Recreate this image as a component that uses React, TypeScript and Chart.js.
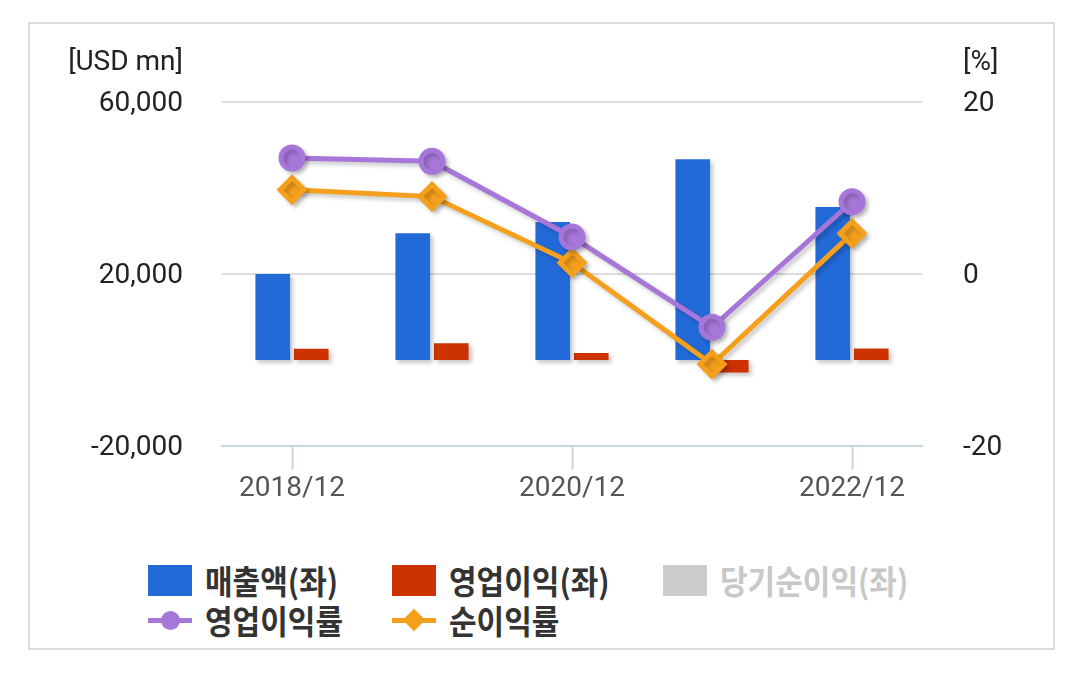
import React, { useEffect, useRef } from "react";
import { Chart, registerables } from "chart.js";

Chart.register(...registerables);

const categories = ["2018/12", "2019/12", "2020/12", "2021/12", "2022/12"];
const revenue = [20000, 29500, 32100, 46700, 35600];
const operatingIncome = [2600, 3900, 1600, -2900, 2700];
const netIncome = [1960, 2650, 420, -4900, 1670];
const operatingMargin = [13.5, 13.1, 4.3, -6.2, 8.4];
const netMargin = [9.8, 9.0, 1.3, -10.5, 4.7];
const leftTicks = [-20000, 20000, 60000];
const rightTicks = [-20, 0, 20];

const BLUE = "#236ad9";
const RED = "#cc3300";
const GRAY = "#cccccc";
const PURPLE = "#a776d9";
const ORANGE = "#f5a01c";

const shadowPlugin = {
  id: "shadowPlugin",
  beforeDatasetsDraw(chart: any) {
    const ctx = chart.ctx;
    ctx.save();
    ctx.shadowColor = "rgba(0,0,0,0.22)";
    ctx.shadowBlur = 4;
    ctx.shadowOffsetX = 3;
    ctx.shadowOffsetY = 3;
  },
  afterDatasetsDraw(chart: any) {
    chart.ctx.restore();
  },
};

const axisTitlePlugin = {
  id: "axisTitlePlugin",
  afterDraw(chart: any) {
    const ctx = chart.ctx;
    const area = chart.chartArea;
    ctx.save();
    ctx.font = "28px Roboto";
    ctx.fillStyle = "#222";
    ctx.textBaseline = "middle";
    ctx.textAlign = "right";
    ctx.fillText("[USD mn]", area.left - 39, area.top - 39);
    ctx.textAlign = "left";
    ctx.fillText("[%]", area.right + 41, area.top - 39);
    ctx.restore();
  },
};

function ChartCanvas() {
  const ref = useRef<HTMLCanvasElement | null>(null);
  useEffect(() => {
    if (!ref.current) return;
    const chart = new Chart(ref.current, {
      type: "bar",
      data: {
        labels: categories,
        datasets: [
          {
            type: "line",
            label: "영업이익률",
            data: operatingMargin,
            yAxisID: "y1",
            borderColor: PURPLE,
            backgroundColor: PURPLE,
            borderWidth: 5,
            pointStyle: "circle",
            pointRadius: 11,
            pointHoverRadius: 11,
            order: 0,
          } as any,
          {
            type: "line",
            label: "순이익률",
            data: netMargin,
            yAxisID: "y1",
            borderColor: ORANGE,
            backgroundColor: ORANGE,
            borderWidth: 5,
            pointStyle: "rectRot",
            pointRadius: 12,
            pointHoverRadius: 12,
            order: 1,
          } as any,
          {
            label: "매출액(좌)",
            data: revenue,
            yAxisID: "y",
            backgroundColor: BLUE,
            categoryPercentage: 0.55,
            barPercentage: 0.9,
            order: 2,
          },
          {
            label: "영업이익(좌)",
            data: operatingIncome,
            yAxisID: "y",
            backgroundColor: RED,
            categoryPercentage: 0.55,
            barPercentage: 0.9,
            order: 3,
          },
          {
            label: "당기순이익(좌)",
            data: netIncome,
            yAxisID: "y",
            backgroundColor: GRAY,
            categoryPercentage: 0.55,
            barPercentage: 0.9,
            hidden: true,
            order: 4,
          },
        ],
      },
      options: {
        responsive: false,
        animation: false,
        devicePixelRatio: 1,
        layout: { padding: { top: 78, left: 0, right: 0, bottom: 0 } },
        plugins: {
          legend: { display: false },
          tooltip: { enabled: false },
        },
        scales: {
          x: {
            grid: {
              offset: false,
              drawOnChartArea: false,
              drawTicks: true,
              tickLength: 24,
              tickWidth: 2,
              tickColor: (c: any) => (c.index % 2 === 0 ? "#c8d6dd" : "rgba(0,0,0,0)"),
            },
            border: { display: true, color: "#c8d6dd", width: 2 },
            ticks: {
              autoSkip: false,
              maxRotation: 0,
              padding: 2,
              color: "#555",
              font: { family: "Roboto", size: 28 },
              callback: (_v: any, i: number) => (i % 2 === 0 ? categories[i] : ""),
            },
            afterFit: (s: any) => {
              s.height = 78;
            },
          },
          y: {
            position: "left",
            min: -20000,
            max: 60000,
            afterBuildTicks: (s: any) => {
              s.ticks = leftTicks.map((v) => ({ value: v }));
            },
            grid: { color: "#dddddd", lineWidth: 2, drawTicks: false },
            border: { display: false },
            ticks: {
              padding: 39,
              labelOffset: 2,
              color: "#222",
              font: { family: "Roboto", size: 28 },
              callback: (v: any) => Number(v).toLocaleString("en-US"),
            },
            afterFit: (s: any) => {
              s.width = 192;
            },
          },
          y1: {
            position: "right",
            min: -20,
            max: 20,
            afterBuildTicks: (s: any) => {
              s.ticks = rightTicks.map((v) => ({ value: v }));
            },
            grid: { drawOnChartArea: false, drawTicks: false },
            border: { display: false },
            ticks: {
              padding: 41,
              labelOffset: 2,
              color: "#222",
              font: { family: "Roboto", size: 28 },
            },
            afterFit: (s: any) => {
              s.width = 131;
            },
          },
        },
      },
      plugins: [shadowPlugin, axisTitlePlugin],
    } as any);
    return () => chart.destroy();
  }, []);
  return <canvas ref={ref} width={1023} height={500} style={{ display: "block" }} />;
}

const legendFont: React.CSSProperties = {
  fontFamily: "'Noto Sans CJK KR', 'Noto Sans', sans-serif",
  fontWeight: 700,
  fontSize: 30,
  lineHeight: "36px",
  whiteSpace: "nowrap",
  display: "inline-block",
  transform: "scaleY(1.08)",
};

function BoxItem({ x, y, color, label, textColor }: any) {
  return (
    <div style={{ position: "absolute", left: x, top: y, height: 36, display: "flex", alignItems: "center" }}>
      <div style={{ width: 44, height: 31, background: color }} />
      <span style={{ ...legendFont, color: textColor, marginLeft: 13 }}>{label}</span>
    </div>
  );
}

function LineItem({ x, y, color, label, diamond }: any) {
  return (
    <div style={{ position: "absolute", left: x, top: y, height: 36, display: "flex", alignItems: "center" }}>
      <div style={{ position: "relative", width: 44, height: 24 }}>
        <div style={{ position: "absolute", left: 0, top: 10, width: 44, height: 5, background: color }} />
        {diamond ? (
          <div
            style={{
              position: "absolute",
              left: 14,
              top: 4,
              width: 16,
              height: 16,
              background: color,
              transform: "rotate(45deg)",
            }}
          />
        ) : (
          <div
            style={{
              position: "absolute",
              left: 13,
              top: 3,
              width: 19,
              height: 19,
              borderRadius: "50%",
              background: color,
            }}
          />
        )}
      </div>
      <span style={{ ...legendFont, color: "#333", marginLeft: 13 }}>{label}</span>
    </div>
  );
}

export default function App() {
  return (
    <div
      style={{
        position: "absolute",
        left: 28,
        top: 22,
        width: 1023,
        height: 624,
        border: "2px solid #dcdcdc",
        background: "#fff",
      }}
    >
      <ChartCanvas />
      <BoxItem x={118} y={538} color={BLUE} label="매출액(좌)" textColor="#333" />
      <BoxItem x={362} y={538} color={RED} label="영업이익(좌)" textColor="#333" />
      <BoxItem x={633} y={538} color={GRAY} label="당기순이익(좌)" textColor="#c8c8c8" />
      <LineItem x={118} y={578} color={PURPLE} label="영업이익률" />
      <LineItem x={362} y={578} color={ORANGE} label="순이익률" diamond />
    </div>
  );
}
